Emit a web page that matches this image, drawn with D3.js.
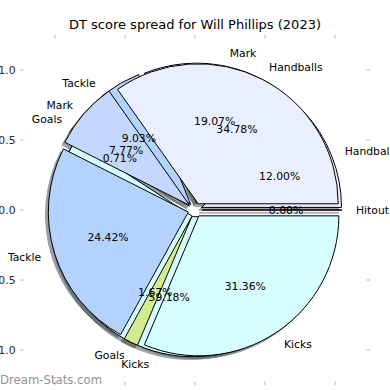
<!DOCTYPE html>
<html>
<head>
<meta charset="utf-8">
<script src="https://cdn.jsdelivr.net/npm/d3@7"></script>
<style>
  body { margin: 0; background: #fff; }
  text { font-family: "DejaVu Sans", sans-serif; }
</style>
</head>
<body>
<div id="dv"></div>
<script>
// categories, in the order they are laid out (counter-clockwise from 3 o'clock)
var categories = ["Hitout", "Handballs", "Mark", "Tackle", "Goals", "Kicks"];
var catColors = ["#f2f2c8", "#e9effe", "#c4d7fe", "#b3d3fe", "#d2eb8e", "#d6fefe"];

// the pie that is drawn underneath (no hitout wedge)
var backValues = [null, 12.00, 19.07, 9.03, 0.71, 59.18];
// the pie that is drawn on top
var frontValues = [0.00, 34.78, 7.77, 24.42, 1.67, 31.36];

var axisTicks = [-1.0, -0.5, 0.0, 0.5, 1.0];

var width = 390;
var height = 390;

var svg = d3
  .select("div#dv")
  .append("svg")
  .attr("width", width)
  .attr("height", height);

var x = d3.scaleLinear().domain([-1.25, 1.25]).range([20, 370]);
var y = d3.scaleLinear().domain([-1.25, 1.25]).range([385, 35]);
var R = x(1) - x(0);
var explode = 0.05;

var color = d3.scaleOrdinal().domain(categories).range(catColors);

// title
svg
  .append("text")
  .attr("x", x(0))
  .attr("y", 29)
  .style("text-anchor", "middle")
  .style("font-size", "13px")
  .style("fill", "#000")
  .text("DT score spread for Will Phillips (2023)");

// ticks (pointing inwards, light grey)
var tickLen = 3.5;
var tickG = svg.append("g").attr("stroke", "#b8b8b8").attr("stroke-width", 1);
axisTicks.forEach(function(t) {
  tickG.append("line").attr("x1", x(-1.25)).attr("x2", x(-1.25) + tickLen).attr("y1", y(t)).attr("y2", y(t));
  tickG.append("line").attr("x1", x(1.25)).attr("x2", x(1.25) - tickLen).attr("y1", y(t)).attr("y2", y(t));
  tickG.append("line").attr("y1", y(1.25)).attr("y2", y(1.25) + tickLen).attr("x1", x(t)).attr("x2", x(t));
  tickG.append("line").attr("y1", y(-1.25)).attr("y2", y(-1.25) - tickLen).attr("x1", x(t)).attr("x2", x(t));
});

var fmtTick = function(t) {
  return (t < 0 ? "\u2212" : "") + Math.abs(t).toFixed(1);
};

svg
  .selectAll("text.ytick")
  .data(axisTicks)
  .enter()
  .append("text")
  .attr("class", "ytick")
  .attr("x", x(-1.25) - 4.5)
  .attr("y", function(d) { return y(d); })
  .attr("dy", "0.36em")
  .style("text-anchor", "end")
  .style("font-size", "10.8px")
  .style("fill", "#262626")
  .text(fmtTick);

svg
  .selectAll("text.xtick")
  .data(axisTicks)
  .enter()
  .append("text")
  .attr("class", "xtick")
  .attr("x", function(d) { return x(d); })
  .attr("y", y(-1.25) + 12.5)
  .style("text-anchor", "middle")
  .style("font-size", "10.8px")
  .style("fill", "#262626")
  .text(fmtTick);

var pie = d3
  .pie()
  .sort(null)
  .value(function(d) { return d.value; })
  .startAngle(Math.PI / 2)
  .endAngle(Math.PI / 2 - 2 * Math.PI);

var arc = d3.arc().innerRadius(0).outerRadius(R);

var makeArcs = function(values) {
  var rows = categories
    .map(function(c, i) {
      return { cat: c, value: values[i] };
    })
    .filter(function(r) { return r.value !== null; });
  return pie(rows).map(function(a) {
    var m = (a.startAngle + a.endAngle) / 2;
    a.ux = Math.sin(m);
    a.uy = -Math.cos(m);
    a.cx = x(0) + a.ux * explode * R;
    a.cy = y(0) + a.uy * explode * R;
    return a;
  });
};

var back = makeArcs(backValues);
var front = makeArcs(frontValues);

// shadows go under every wedge
var shadowG = svg.append("g");
back.concat(front).forEach(function(a) {
  var c = d3.rgb(color(a.data.cat));
  var dark = d3.rgb(c.r * 0.3, c.g * 0.3, c.b * 0.3);
  shadowG
    .append("path")
    .attr("d", arc(a))
    .attr("transform", "translate(" + (a.cx - 0.02 * R) + "," + (a.cy + 0.02 * R) + ")")
    .attr("fill", dark)
    .attr("stroke", dark)
    .attr("stroke-width", 1)
    .attr("opacity", 0.5);
});

var drawWedges = function(arcs) {
  svg
    .append("g")
    .selectAll("path")
    .data(arcs)
    .enter()
    .append("path")
    .attr("d", arc)
    .attr("transform", function(d) { return "translate(" + d.cx + "," + d.cy + ")"; })
    .attr("fill", function(d) { return color(d.data.cat); })
    .attr("stroke", "#000")
    .attr("stroke-width", 1)
    .attr("stroke-linejoin", "round");
};

drawWedges(back);
drawWedges(front);

var drawTexts = function(arcs) {
  var g = svg.append("g");
  // category labels
  g.selectAll("text.lbl")
    .data(arcs)
    .enter()
    .append("text")
    .attr("class", "lbl")
    .attr("x", function(d) { return d.cx + d.ux * 1.1 * R; })
    .attr("y", function(d) { return d.cy + d.uy * 1.1 * R; })
    .attr("dy", "0.35em")
    .style("text-anchor", function(d) { return d.ux > 0 ? "start" : "end"; })
    .style("font-size", "10.8px")
    .style("fill", "#000")
    .text(function(d) { return d.data.cat; });
  // percentages
  g.selectAll("text.pct")
    .data(arcs)
    .enter()
    .append("text")
    .attr("class", "pct")
    .attr("x", function(d) { return d.cx + d.ux * 0.6 * R; })
    .attr("y", function(d) { return d.cy + d.uy * 0.6 * R; })
    .attr("dy", "0.35em")
    .style("text-anchor", "middle")
    .style("font-size", "10.8px")
    .style("fill", "#000")
    .text(function(d) { return d.data.value.toFixed(2) + "%"; });
};

drawTexts(back);
drawTexts(front);

// watermark
svg
  .append("text")
  .attr("x", 0)
  .attr("y", 384)
  .style("font-size", "11.7px")
  .style("fill", "#808080")
  .style("opacity", 0.85)
  .text("Dream-Stats.com");
</script>
</body>
</html>
